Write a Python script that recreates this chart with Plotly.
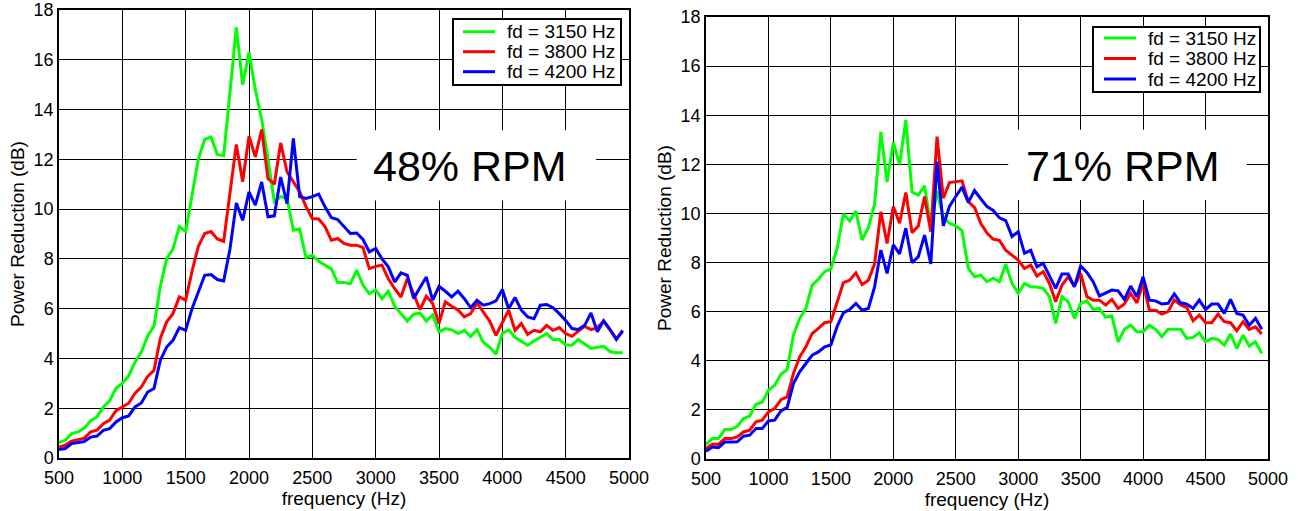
import plotly.graph_objects as go

# Frequency grid (Hz), 50 Hz steps
freq = list(range(500, 5000, 50))

# 48% RPM
left_3150 = [0.62, 0.72, 0.98, 1.05, 1.2, 1.5, 1.65, 2.05, 2.3, 2.8,
             3.0, 3.3, 3.85, 4.25, 4.9, 5.3, 6.9, 8.0, 8.4, 9.3,
             9.1, 10.6, 12.0, 12.8, 12.9, 12.2, 12.15, 14.7, 17.3, 15.0,
             16.3, 14.8, 13.6, 12.0, 10.3, 10.5, 10.45, 9.15, 9.2, 8.05,
             8.15, 7.9, 7.75, 7.6, 7.05, 7.05, 7.0, 7.55, 6.95, 6.6,
             6.75, 6.4, 6.7, 6.1, 5.8, 5.5, 5.78, 5.82, 5.5, 5.75,
             5.07, 5.2, 5.15, 5.0, 5.13, 4.88, 5.15, 4.65, 4.46, 4.17,
             5.0, 5.15, 4.85, 4.7, 4.53, 4.7, 4.85, 5.0, 4.76, 4.76,
             4.55, 4.53, 4.76, 4.57, 4.4, 4.45, 4.49, 4.28, 4.23, 4.23]
left_3800 = [0.44, 0.52, 0.68, 0.74, 0.8, 1.05, 1.12, 1.38, 1.52, 1.9,
             2.05, 2.2, 2.6, 2.85, 3.28, 3.52, 4.8, 5.47, 5.8, 6.47,
             6.34, 7.5, 8.5, 9.02, 9.1, 8.8, 8.7, 10.6, 12.6, 11.1,
             12.93, 12.1, 13.2, 11.23, 11.0, 12.66, 11.5, 11.1, 10.7, 10.1,
             9.62, 9.6, 9.3, 8.75, 8.82, 8.62, 8.55, 8.55, 8.45, 7.61,
             7.7, 7.75, 7.2, 6.8, 6.47, 7.21, 6.6, 5.96, 6.5, 6.21,
             5.4, 6.27, 6.1, 5.95, 5.67, 5.8, 6.23, 5.85, 5.5, 4.93,
             5.45, 5.94, 5.13, 5.4, 4.97, 5.13, 5.07, 5.33, 5.13, 5.24,
             5.0, 4.89, 5.1, 5.29, 5.16, 5.24, 5.5, 5.13, 4.8, 5.07]
left_4200 = [0.34, 0.38, 0.58, 0.62, 0.66, 0.84, 0.88, 1.11, 1.18, 1.45,
             1.62, 1.69, 2.05, 2.21, 2.65, 2.79, 3.93, 4.46, 4.73, 5.24,
             5.13, 6.0, 6.7, 7.34, 7.37, 7.17, 7.11, 8.4, 10.25, 9.55,
             10.69, 10.16, 11.09, 9.69, 9.73, 11.29, 10.22, 12.84, 10.5, 10.43,
             10.5, 10.6, 10.09, 9.66, 9.58, 9.3, 9.02, 9.04, 8.78, 8.28,
             8.42, 8.0, 7.68, 7.07, 7.44, 7.34, 6.41, 6.85, 7.27, 6.34,
             6.9, 6.7, 6.47, 6.7, 6.4, 6.04, 6.34, 6.14, 6.2, 6.31,
             6.77, 6.0, 6.45, 5.94, 5.67, 5.6, 6.14, 6.17, 6.04, 5.8,
             5.53, 5.2, 5.16, 5.33, 5.83, 5.07, 5.51, 5.16, 4.76, 5.13]

# 71% RPM
right_3150 = [0.59, 0.83, 0.83, 1.2, 1.2, 1.33, 1.65, 1.75, 2.23, 2.31,
              2.8, 3.0, 3.45, 3.65, 5.04, 5.72, 6.13, 7.08, 7.32, 7.63,
              7.74, 8.58, 9.98, 9.69, 10.1, 8.92, 9.42, 10.38, 13.32, 11.28,
              12.89, 12.0, 13.8, 10.87, 10.75, 11.12, 9.5, 10.9, 9.85, 9.6,
              9.5, 9.3, 7.77, 7.42, 7.49, 7.22, 7.36, 7.22, 7.94, 7.15,
              6.75, 7.15, 7.01, 7.0, 6.95, 6.61, 5.52, 6.61, 6.4, 5.73,
              6.34, 6.44, 6.09, 6.13, 5.77, 5.82, 4.77, 5.28, 5.45, 5.18,
              5.18, 5.45, 5.28, 4.98, 5.28, 5.28, 5.28, 4.91, 4.95, 5.14,
              4.77, 4.91, 4.87, 4.64, 5.09, 4.5, 5.04, 4.6, 4.77, 4.3]
right_3800 = [0.42, 0.6, 0.6, 0.83, 0.83, 0.9, 1.1, 1.17, 1.51, 1.58,
              1.92, 2.05, 2.42, 2.53, 3.48, 4.16, 4.57, 5.11, 5.32, 5.55,
              5.59, 6.4, 7.18, 7.28, 7.58, 7.1, 7.28, 7.95, 10.07, 8.78,
              10.28, 9.6, 10.85, 9.22, 9.49, 10.69, 9.26, 13.13, 10.62, 11.26,
              11.3, 11.33, 10.48, 10.25, 9.6, 9.2, 8.95, 8.9, 8.5, 8.3,
              8.1, 7.76, 7.9, 7.45, 7.63, 7.15, 6.4, 7.08, 7.42, 7.04,
              7.56, 6.61, 6.47, 6.47, 6.27, 6.5, 6.13, 6.31, 6.75, 6.36,
              7.15, 6.06, 6.06, 5.9, 6.0, 6.47, 6.27, 6.17, 5.63, 5.86,
              5.55, 5.55, 5.9, 5.59, 5.55, 5.22, 5.59, 5.28, 5.38, 5.09]
right_4200 = [0.31, 0.49, 0.46, 0.69, 0.69, 0.7, 0.93, 0.97, 1.24, 1.24,
              1.55, 1.58, 1.96, 2.1, 3.07, 3.55, 3.89, 4.23, 4.36, 4.57,
              4.64, 5.4, 5.95, 6.09, 6.34, 6.06, 6.13, 7.01, 8.51, 7.56,
              8.72, 8.35, 9.4, 7.99, 8.24, 9.12, 7.94, 12.11, 9.49, 10.3,
              10.69, 11.07, 10.45, 10.93, 10.6, 10.28, 10.12, 9.82, 9.71, 9.06,
              9.26, 8.38, 8.5, 7.83, 7.97, 7.49, 6.95, 7.53, 7.53, 7.01,
              7.86, 7.6, 7.22, 6.64, 6.75, 6.88, 6.85, 6.5, 7.04, 6.61,
              7.42, 6.47, 6.44, 6.31, 6.34, 6.72, 6.36, 6.31, 6.13, 6.47,
              6.09, 6.31, 6.31, 5.93, 6.5, 5.93, 5.86, 5.45, 5.73, 5.28]

series_names = ["fd = 3150 Hz", "fd = 3800 Hz", "fd = 4200 Hz"]
series_colors = ["#00ff00", "#ff0000", "#0000ff"]
panel_labels = ["48% RPM", "71% RPM"]

FONT = "Arial, Liberation Sans, sans-serif"
W, H = 1307, 511

fig = go.Figure()

panels = [
    dict(data=[left_3150, left_3800, left_4200], xa="x", ya="y"),
    dict(data=[right_3150, right_3800, right_4200], xa="x2", ya="y2"),
]
for p in panels:
    for name, color, vals in zip(series_names, series_colors, p["data"]):
        fig.add_trace(go.Scatter(
            x=freq, y=vals, mode="lines", name=name, showlegend=False,
            line=dict(color=color, width=3),
            xaxis=p["xa"], yaxis=p["ya"],
        ))

def xaxis_style(domain, anchor):
    return dict(domain=domain, anchor=anchor, range=[500, 5000], dtick=500,
                tick0=500, showgrid=True, gridcolor="#000", gridwidth=1,
                showline=True, linecolor="#000", linewidth=1.5, mirror=True,
                ticks="", zeroline=False, automargin=False, ticklabelstandoff=3,
                tickfont=dict(family=FONT, size=18, color="#000"),
                title=dict(text="frequency (Hz)", standoff=0,
                           font=dict(family=FONT, size=19, color="#000")))

def yaxis_style(domain, anchor):
    return dict(domain=domain, anchor=anchor, range=[0, 18], dtick=2,
                showgrid=True, gridcolor="#000", gridwidth=1,
                showline=True, linecolor="#000", linewidth=1.5, mirror=True,
                ticks="", zeroline=False, automargin=False,
                tickfont=dict(family=FONT, size=18, color="#000"),
                title=dict(text="Power Reduction (dB)", standoff=4,
                           font=dict(family=FONT, size=19, color="#000")))

lx = [59 / W, 629 / W]
ly = [(H - 458) / H, (H - 10) / H]
rx = [706 / W, 1268 / W]
ry = [(H - 459) / H, (H - 17) / H]

fig.update_layout(
    width=W, height=H,
    margin=dict(l=0, r=0, t=0, b=0),
    paper_bgcolor="#fff", plot_bgcolor="#fff",
    font=dict(family=FONT, color="#000"),
    xaxis=xaxis_style(lx, "y"), yaxis=yaxis_style(ly, "x"),
    xaxis2=xaxis_style(rx, "y2"), yaxis2=yaxis_style(ry, "x2"),
    showlegend=False,
)

# White label boxes with the operating point text
boxes = [
    dict(xref="x", yref="y", x0=2850, x1=4740, y0=10.35, y1=13.17, tx=3745, ty=11.75),
    dict(xref="x2", yref="y2", x0=2920, x1=4830, y0=10.55, y1=13.41, tx=3835, ty=11.95),
]
for b, label in zip(boxes, panel_labels):
    fig.add_shape(type="rect", xref=b["xref"], yref=b["yref"],
                  x0=b["x0"], x1=b["x1"], y0=b["y0"], y1=b["y1"],
                  fillcolor="#fff", line=dict(width=0), layer="above")
    fig.add_annotation(xref=b["xref"], yref=b["yref"], x=b["tx"], y=b["ty"],
                       text=label, showarrow=False,
                       font=dict(family=FONT, size=43, color="#000"))

# Compact boxed legends (pixel layout converted to paper coordinates)
def px_x(v):
    return v / W

def px_y(v):
    return 1 - v / H

legend_boxes = [
    dict(box=(453, 19, 621, 85), line_x=(463, 495), text_x=506, rows=(31.7, 51.7, 71.7)),
    dict(box=(1093, 27, 1260, 92), line_x=(1104, 1136), text_x=1147, rows=(38, 58.5, 79)),
]
for lg in legend_boxes:
    x0, y0, x1, y1 = lg["box"]
    fig.add_shape(type="rect", xref="paper", yref="paper",
                  x0=px_x(x0), x1=px_x(x1), y0=px_y(y1), y1=px_y(y0),
                  fillcolor="#fff", line=dict(color="#000", width=2), layer="above")
    for name, color, ry_ in zip(series_names, series_colors, lg["rows"]):
        fig.add_shape(type="line", xref="paper", yref="paper",
                      x0=px_x(lg["line_x"][0]), x1=px_x(lg["line_x"][1]),
                      y0=px_y(ry_), y1=px_y(ry_),
                      line=dict(color=color, width=3), layer="above")
        fig.add_annotation(xref="paper", yref="paper", x=px_x(lg["text_x"]), y=px_y(ry_),
                           xanchor="left", yanchor="middle", showarrow=False,
                           text=name, borderpad=0,
                           font=dict(family=FONT, size=19, color="#000"))

fig.write_html("out.html")
